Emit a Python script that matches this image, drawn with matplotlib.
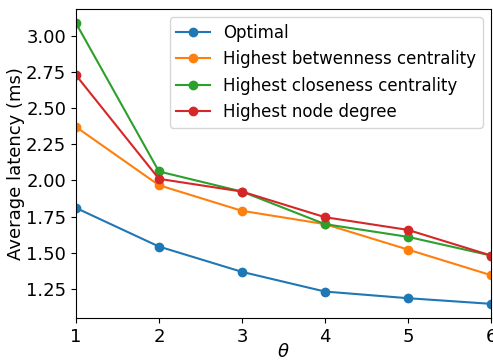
import numpy as np
import matplotlib.pyplot as plt
from matplotlib.ticker import MultipleLocator

theta = [1, 2, 3, 4, 5, 6]
optimal = [1.81, 1.543, 1.368, 1.232, 1.186, 1.147]
betweenness = [2.37, 1.967, 1.79, 1.698, 1.522, 1.345]
closeness = [3.088, 2.062, 1.923, 1.698, 1.61, 1.481]
degree = [2.728, 2.011, 1.923, 1.746, 1.658, 1.481]

series = [
    ("Optimal", optimal),
    ("Highest betwenness centrality", betweenness),
    ("Highest closeness centrality", closeness),
    ("Highest node degree", degree),
]

plt.rcParams['font.size'] = 13
fig, ax = plt.subplots(figsize=(4.93, 3.6), dpi=100)
for label, vals in series:
    ax.plot(theta, vals, marker='o', markersize=6, label=label)

ax.set_xlim(1, 6)
ax.yaxis.set_major_locator(MultipleLocator(0.25))
ax.tick_params(labelsize=13)
ax.set_xlabel(r"$\theta$", fontsize=13, labelpad=-2)
ax.set_ylabel("Average latency (ms)", fontsize=13, labelpad=1)
ax.legend(loc='upper right', fontsize=12)
fig.subplots_adjust(left=0.154, right=0.996, top=0.975, bottom=0.117)
fig.savefig("out.png", dpi=100)
